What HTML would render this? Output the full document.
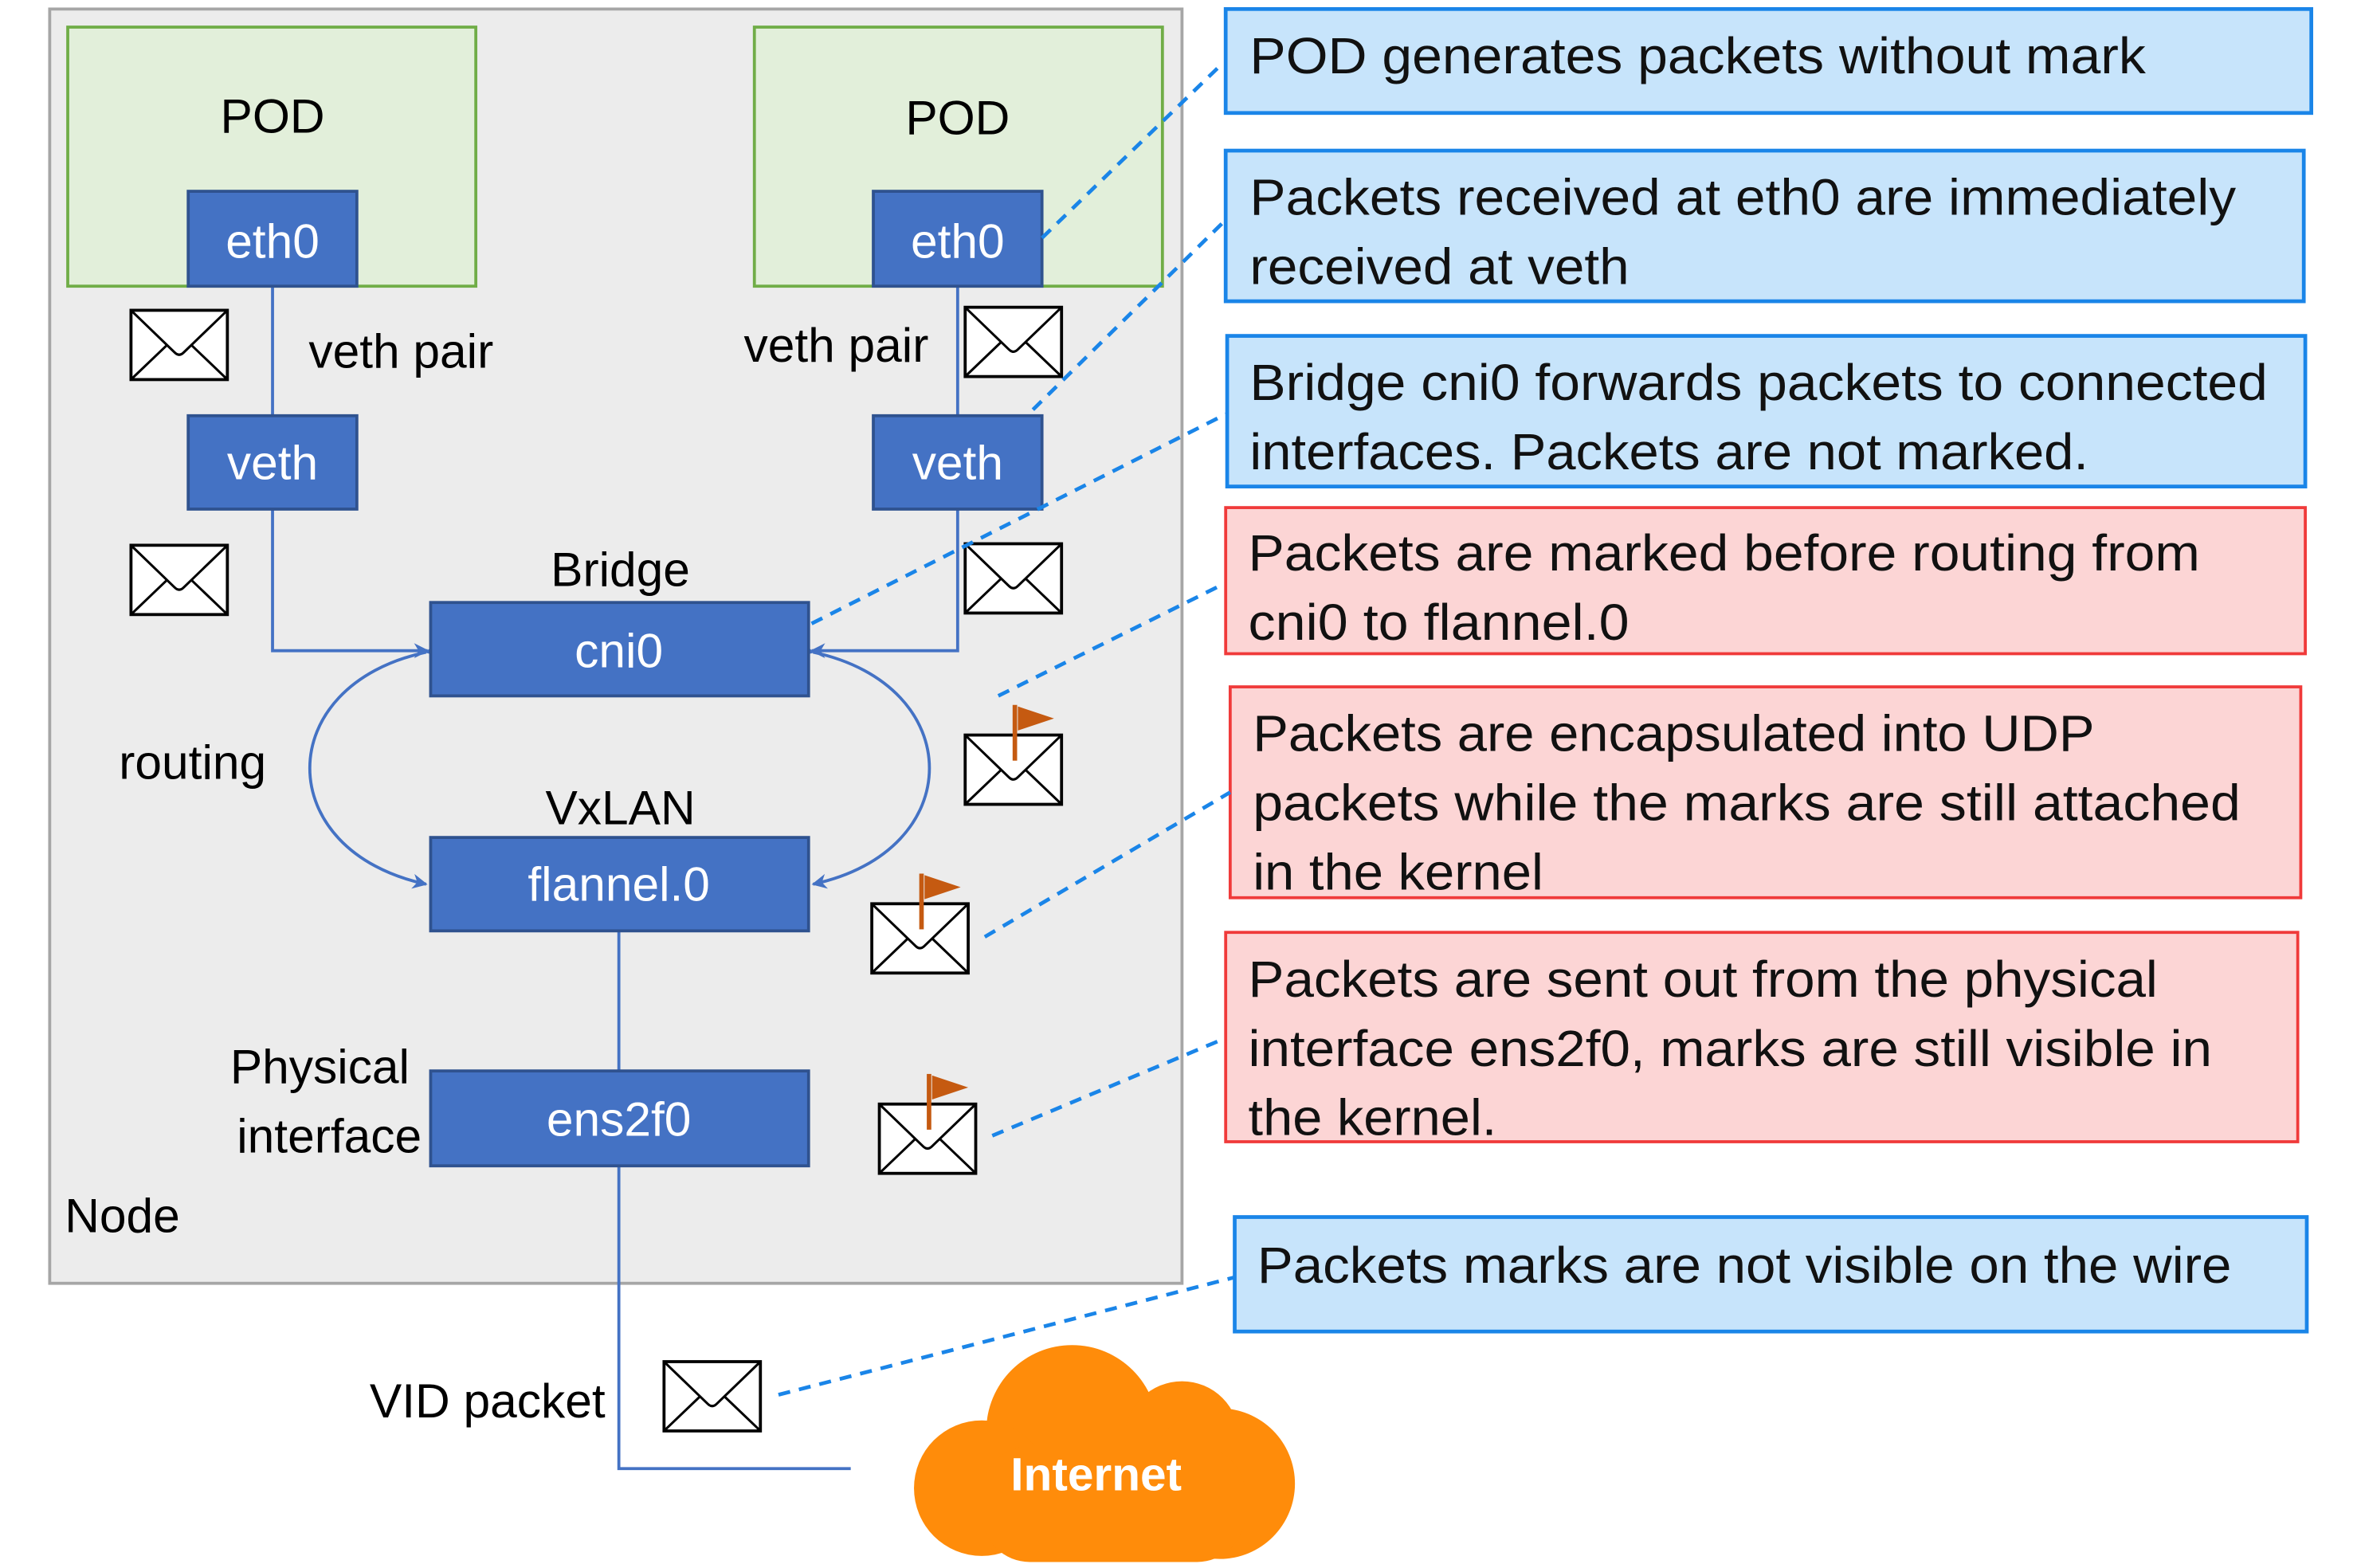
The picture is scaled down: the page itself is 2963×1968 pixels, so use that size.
<!DOCTYPE html>
<html><head><meta charset="utf-8"><style>
html,body{margin:0;padding:0;background:#fff;}
svg{display:block;}
text{font-family:"Liberation Sans",sans-serif;}
</style></head><body>
<svg width="2963" height="1968" viewBox="0 0 1568 1041" preserveAspectRatio="none" xmlns="http://www.w3.org/2000/svg">
<defs>
<marker id="ar" markerWidth="10" markerHeight="10" refX="9" refY="5" orient="auto" markerUnits="userSpaceOnUse"><path d="M0,0 L10,5 L0,10 L3,5 Z" fill="#4472c4"/></marker>
<g id="env"><rect x="0" y="0" width="64" height="46" fill="#fff" stroke="#000" stroke-width="2"/><path d="M1,1 L29,28 Q32,31 35,28 L63,1 M1,45 L24,23 M63,45 L40,23" fill="none" stroke="#000" stroke-width="1.6"/></g>
<g id="flag"><rect x="-1.5" y="0" width="3" height="37" fill="#c55a11"/><path d="M2,1 L26,9 L2,17 Z" fill="#c55a11"/></g>
</defs>
<rect x="33" y="6" width="752" height="846" fill="#ececec" stroke="#a6a6a6" stroke-width="2"/>
<rect x="45" y="18" width="271" height="172" fill="#e2efda" stroke="#70ad47" stroke-width="2"/>
<rect x="501" y="18" width="271" height="172" fill="#e2efda" stroke="#70ad47" stroke-width="2"/>
<g font-size="32" fill="#000" text-anchor="middle" dominant-baseline="central">
<text x="181" y="77">POD</text><text x="636" y="78">POD</text>
</g>
<g stroke="#4472c4" stroke-width="2" fill="none">
<line x1="181" y1="190" x2="181" y2="276"/>
<line x1="636" y1="190" x2="636" y2="276"/>
<path d="M181,338 V432 H284" marker-end="url(#ar)"/>
<path d="M636,338 V432 H539" marker-end="url(#ar)"/>
<path d="M283,433 C180,455 180,565 283,587" marker-end="url(#ar)" marker-start="url(#ar)"/>
<path d="M540,433 C643,455 643,565 540,587" marker-end="url(#ar)" marker-start="url(#ar)"/>
<line x1="411" y1="618" x2="411" y2="711"/>
<path d="M411,774 V975 H565"/>
</g>
<g fill="#4472c4" stroke="#2f528f" stroke-width="2">
<rect x="125" y="127" width="112" height="63"/><rect x="580" y="127" width="112" height="63"/>
<rect x="125" y="276" width="112" height="62"/><rect x="580" y="276" width="112" height="62"/>
<rect x="286" y="400" width="251" height="62"/><rect x="286" y="556" width="251" height="62"/>
<rect x="286" y="711" width="251" height="63"/>
</g>
<g font-size="32" fill="#fff" text-anchor="middle" dominant-baseline="central">
<text x="181" y="160">eth0</text><text x="636" y="160">eth0</text>
<text x="181" y="307">veth</text><text x="636" y="307">veth</text>
<text x="411" y="432">cni0</text><text x="411" y="587">flannel.0</text><text x="411" y="743">ens2f0</text>
</g>
<g font-size="32" fill="#000" dominant-baseline="central">
<text x="205" y="233">veth pair</text>
<text x="494" y="229">veth pair</text>
<text x="412" y="378" text-anchor="middle">Bridge</text>
<text x="412" y="536" text-anchor="middle">VxLAN</text>
<text x="79" y="506">routing</text>
<text x="272" y="708" text-anchor="end">Physical</text>
<text x="280" y="754" text-anchor="end">interface</text>
<text x="43" y="807">Node</text>
<text x="402" y="930" text-anchor="end">VID packet</text>
</g>
<use href="#env" x="87" y="206"/><use href="#env" x="641" y="204"/>
<use href="#env" x="87" y="362"/><use href="#env" x="641" y="361"/>
<use href="#env" x="641" y="488"/><use href="#flag" x="674" y="468"/>
<use href="#env" x="579" y="600"/><use href="#flag" x="612" y="580"/>
<use href="#env" x="584" y="733"/><use href="#flag" x="617" y="713"/>
<use href="#env" x="441" y="904"/>
<g fill="#ff8c0a">
<circle cx="712" cy="950" r="57"/>
<circle cx="785" cy="955" r="38"/>
<circle cx="652" cy="988" r="45"/>
<circle cx="810" cy="985" r="50"/>
<rect x="652" y="960" width="175" height="77" rx="32"/>
</g>
<text x="728" y="979" font-size="31" font-weight="bold" fill="#fff" text-anchor="middle" dominant-baseline="central">Internet</text>
<g stroke="#1a85e8" stroke-width="2.5" fill="#c7e4fb">
<rect x="814" y="6" width="721" height="69"/>
<rect x="814" y="100" width="716" height="100"/>
<rect x="815" y="223" width="716" height="100"/>
<rect x="820" y="808" width="712" height="76"/>
</g>
<g stroke="#f03a3a" stroke-width="2" fill="#fcd5d5">
<rect x="814" y="337" width="717" height="97"/>
<rect x="817" y="456" width="711" height="140"/>
<rect x="814" y="619" width="712" height="139"/>
</g>
<g font-size="34" fill="#111" dominant-baseline="central">
<text x="830" y="37" textLength="595" lengthAdjust="spacingAndGlyphs">POD generates packets without mark</text>
<text x="830" y="131" textLength="655" lengthAdjust="spacingAndGlyphs">Packets received at eth0 are immediately</text>
<text x="830" y="177" textLength="252" lengthAdjust="spacingAndGlyphs">received at veth</text>
<text x="830" y="254" textLength="676" lengthAdjust="spacingAndGlyphs">Bridge cni0 forwards packets to connected</text>
<text x="830" y="300" textLength="557" lengthAdjust="spacingAndGlyphs">interfaces. Packets are not marked.</text>
<text x="829" y="367" textLength="632" lengthAdjust="spacingAndGlyphs">Packets are marked before routing from</text>
<text x="829" y="413" textLength="253" lengthAdjust="spacingAndGlyphs">cni0 to flannel.0</text>
<text x="832" y="487" textLength="559" lengthAdjust="spacingAndGlyphs">Packets are encapsulated into UDP</text>
<text x="832" y="533" textLength="656" lengthAdjust="spacingAndGlyphs">packets while the marks are still attached</text>
<text x="832" y="579" textLength="193" lengthAdjust="spacingAndGlyphs">in the kernel</text>
<text x="829" y="650" textLength="604" lengthAdjust="spacingAndGlyphs">Packets are sent out from the physical</text>
<text x="829" y="696" textLength="640" lengthAdjust="spacingAndGlyphs">interface ens2f0, marks are still visible in</text>
<text x="829" y="742" textLength="165" lengthAdjust="spacingAndGlyphs">the kernel.</text>
<text x="835" y="840" textLength="647" lengthAdjust="spacingAndGlyphs">Packets marks are not visible on the wire</text>
</g>
<g stroke="#1a85e8" stroke-width="2.5" stroke-dasharray="8,6" fill="none">
<line x1="692" y1="158" x2="812" y2="42"/>
<line x1="686" y1="272" x2="814" y2="146"/>
<line x1="539" y1="414" x2="814" y2="275"/>
<line x1="663" y1="462" x2="812" y2="388"/>
<line x1="654" y1="622" x2="817" y2="526"/>
<line x1="659" y1="754" x2="812" y2="690"/>
<line x1="517" y1="926" x2="820" y2="848"/>
</g>
</svg>
</body></html>
